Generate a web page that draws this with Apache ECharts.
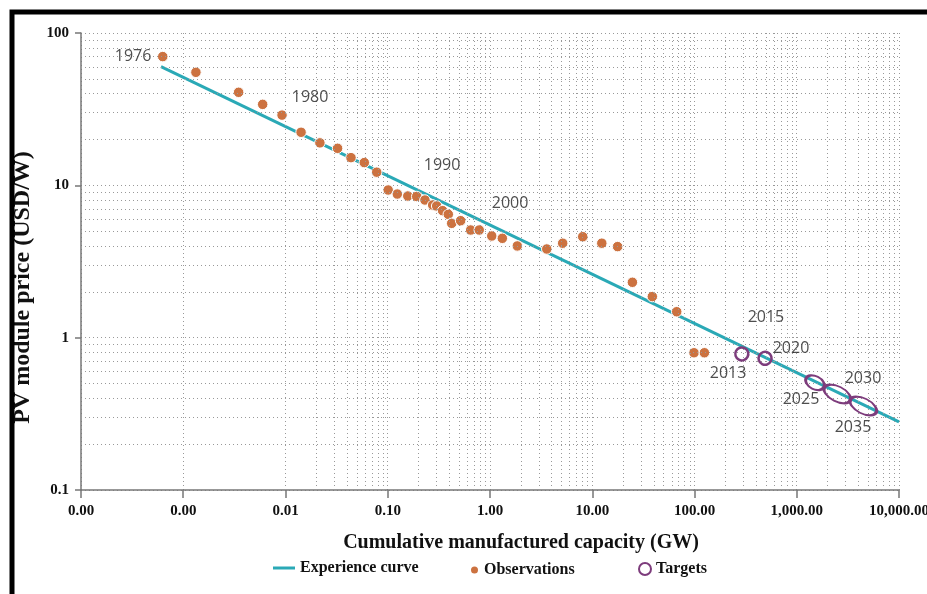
<!DOCTYPE html>
<html>
<head>
<meta charset="utf-8">
<script src="https://cdn.jsdelivr.net/npm/echarts@6/dist/echarts.min.js"></script>
<style>
  html, body { margin: 0; padding: 0; background: #fff; }
  #main { width: 927px; height: 594px; }
</style>
</head>
<body>
<div id="main"></div>
<script>
// experience curve of PV modules, log-log

// observations: [cumulative GW, USD/W]
const obsCapacity = [0.00063, 0.00133, 0.00348, 0.00598, 0.00925, 0.0142, 0.0217, 0.0323, 0.0437, 0.059,
  0.078, 0.101, 0.124, 0.157, 0.192, 0.231, 0.275, 0.301, 0.344, 0.391,
  0.422, 0.516, 0.647, 0.785, 1.04, 1.32, 1.85, 3.59, 5.14, 8.07,
  12.4, 17.7, 24.7, 38.7, 67.0, 98.9, 125]
const obsPrice = [70.0, 55.2, 40.8, 34.0, 28.9, 22.3, 19.0, 17.5, 15.2, 14.1,
  12.2, 9.32, 8.77, 8.51, 8.45, 8.01, 7.43, 7.32, 6.82, 6.45,
  5.63, 5.86, 5.09, 5.09, 4.65, 4.49, 4.00, 3.82, 4.17, 4.60,
  4.17, 3.96, 2.31, 1.86, 1.48, 0.796, 0.796]

// targets
const targetCapacity = [290, 490, 1508, 2494, 4477]
const targetPrice = [0.782, 0.732, 0.506, 0.427, 0.356]
const targetSize = [[13, 13], [13, 13], [20, 13], [29, 15], [29, 15]]

// experience curve end points
const curveCapacity = [0.000606, 10000]
const curvePrice = [60.1, 0.28]

// year annotations: [text, capacity, price]
const yearText = ['1976', '1980', '1990', '2000', '2013', '2015', '2020', '2025', '2030', '2035']
const yearCapacity = [0.000323, 0.0174, 0.340, 1.57, 213, 500, 879, 1101, 4446, 3548]
const yearPrice = [70, 38.0, 13.6, 7.66, 0.586, 1.35, 0.855, 0.395, 0.543, 0.259]

const xTicks = [0.0001, 0.001, 0.01, 0.1, 1, 10, 100, 1000, 10000]
const yTicks = [0.1, 1, 10, 100]

const teal = '#2aa9b6'
const orange = '#cc7240'
const purple = '#7d3c7c'
const serif = '"Liberation Serif", "Times New Roman", serif'

// dotted log grid lines (2..9 within each decade)
const minorX = []
for (let i = 0; i < xTicks.length - 1; i++) {
  for (let m = 2; m <= 9; m++) minorX.push({ xAxis: xTicks[i] * m })
}
const minorY = []
for (let i = 0; i < yTicks.length - 1; i++) {
  for (let m = 2; m <= 9; m++) minorY.push({ yAxis: yTicks[i] * m })
}

const fmtX = v => Number(v).toLocaleString('en-US', { minimumFractionDigits: 2, maximumFractionDigits: 2 })

const dotted = { color: '#999', width: 1, type: [1, 3] }

const myChart = echarts.init(document.getElementById('main'))

myChart.setOption({
  backgroundColor: '#fff',
  animation: false,
  grid: { left: 81, right: 28, top: 33, bottom: 104, outerBoundsMode: 'none', containLabel: false },
  graphic: [{
    type: 'polyline',
    shape: { points: [[12, 620], [12, 12], [940, 12]] },
    style: { stroke: '#000', lineWidth: 5, fill: null },
    z: 100
  }],
  xAxis: {
    type: 'log',
    logBase: 10,
    min: 0.0001,
    max: 10000,
    splitNumber: 8,
    name: 'Cumulative manufactured capacity (GW)',
    nameLocation: 'middle',
    nameGap: 43,
    nameTextStyle: { fontFamily: serif, fontWeight: 'bold', fontSize: 20, color: '#111', padding: [0, 0, 0, 62] },
    axisLine: { lineStyle: { color: '#777', width: 1.5 } },
    axisTick: { show: true, length: 8, inside: false, lineStyle: { color: '#777', width: 1.5 } },
    axisLabel: { formatter: fmtX, fontFamily: serif, fontWeight: 'bold', fontSize: 15, color: '#111', margin: 14, interval: 0 },
    splitLine: { show: true, lineStyle: dotted }
  },
  yAxis: {
    type: 'log',
    logBase: 10,
    min: 0.1,
    max: 100,
    name: 'PV module price (USD/W)',
    nameLocation: 'middle',
    nameGap: 46,
    nameTextStyle: { fontFamily: serif, fontWeight: 'bold', fontSize: 24, color: '#111', padding: [0, 52, 0, 0] },
    axisLine: { show: true, lineStyle: { color: '#777', width: 1.5 } },
    axisTick: { show: true, length: 6, lineStyle: { color: '#777', width: 1.5 } },
    axisLabel: { fontFamily: serif, fontWeight: 'bold', fontSize: 15, color: '#111', margin: 12,
      formatter: v => String(Number(v)) },
    splitLine: { show: true, lineStyle: dotted }
  },
  legend: [
    { data: [{ name: 'Experience curve', icon: 'rect' }], left: 268, top: 555, itemWidth: 22, itemHeight: 3,
      textStyle: { fontFamily: serif, fontWeight: 'bold', fontSize: 16, color: '#111' } },
    { data: [{ name: 'Observations', icon: 'circle' }], left: 464, top: 557, itemWidth: 9, itemHeight: 9, itemGap: 4,
      textStyle: { fontFamily: serif, fontWeight: 'bold', fontSize: 16, color: '#111' } },
    { data: [{ name: 'Targets', icon: 'emptyCircle', itemStyle: { color: purple, borderColor: purple, borderWidth: 3 } }],
      left: 633, top: 556, itemWidth: 12, itemHeight: 12,
      textStyle: { fontFamily: serif, fontWeight: 'bold', fontSize: 16, color: '#111' } }
  ],
  series: [
    {
      name: 'grid',
      type: 'line',
      data: [],
      silent: true,
      markLine: {
        silent: true,
        symbol: 'none',
        label: { show: false },
        lineStyle: dotted,
        data: minorX.concat(minorY)
      }
    },
    {
      name: 'Experience curve',
      type: 'line',
      data: curveCapacity.map((x, i) => [x, curvePrice[i]]),
      symbol: 'none',
      lineStyle: { color: teal, width: 3 },
      itemStyle: { color: teal },
      z: 3
    },
    {
      name: 'Observations',
      type: 'scatter',
      data: obsCapacity.map((x, i) => [x, obsPrice[i]]),
      symbolSize: 10.5,
      itemStyle: { color: orange, borderColor: '#fff', borderWidth: 1, opacity: 1 },
      z: 4
    },
    {
      name: 'Targets',
      type: 'scatter',
      data: targetCapacity.map((x, i) => ({ value: [x, targetPrice[i]], symbolSize: targetSize[i] })),
      symbol: 'circle',
      symbolRotate: -27,
      itemStyle: { color: 'rgba(0,0,0,0)', borderColor: purple, borderWidth: 2.5, opacity: 1 },
      z: 5
    },
    {
      name: 'years',
      type: 'scatter',
      data: yearCapacity.map((x, i) => ({ value: [x, yearPrice[i]], name: yearText[i] })),
      symbolSize: 0,
      silent: true,
      label: {
        show: true,
        position: 'inside',
        formatter: p => p.name,
        fontFamily: '"Open Sans", "Noto Sans", sans-serif',
        fontSize: 16,
        color: '#222'
      },
      z: 6
    }
  ]
})
</script>
</body>
</html>
